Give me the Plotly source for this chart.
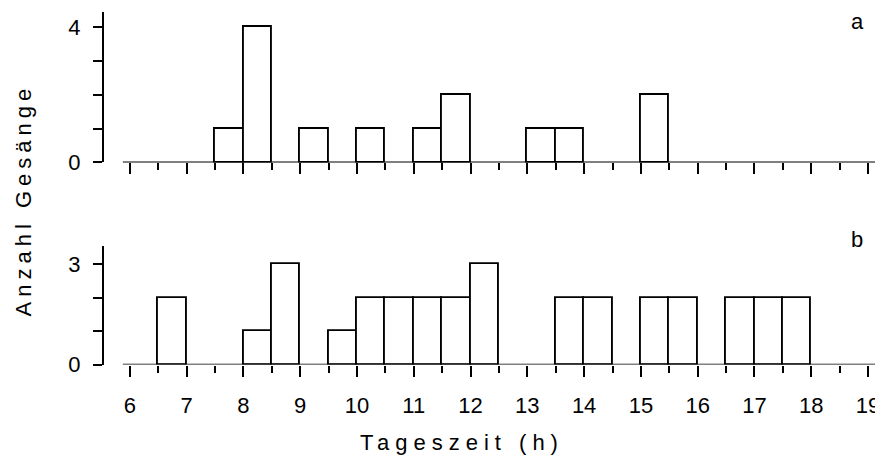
import plotly.graph_objects as go

# half-hour bins starting at 6:00
bin_starts = [6.0 + 0.5 * i for i in range(26)]  # 6.0 .. 18.5
counts_a = [0, 0, 0, 1, 4, 0, 1, 0, 1, 0, 1, 2, 0, 0, 1, 1, 0, 0, 2, 0, 0, 0, 0, 0, 0, 0]
counts_b = [0, 2, 0, 0, 1, 3, 0, 1, 2, 2, 2, 2, 3, 0, 0, 2, 2, 0, 2, 2, 0, 2, 2, 2, 0, 0]
x_ticks = list(range(6, 20))
panel_labels = ["a", "b"]
y_title = "Anzahl Gesänge"
x_title = "Tageszeit (h)"

OFF = 8  # page body margin
W, H = 883 - OFF, 475 - 2 * OFF
FONT = "Liberation Sans Narrow, Liberation Sans, Arial, sans-serif"
LW = 1.9

def px_x(p):
    return (p - OFF) / W

def px_y(p):
    return 1 - (p - OFF) / H

fig = go.Figure()

centers = [s + 0.25 for s in bin_starts]
for counts, xa, ya in [(counts_a, "x", "y"), (counts_b, "x2", "y2")]:
    xs = [c for c, v in zip(centers, counts) if v > 0]
    ys = [v for v in counts if v > 0]
    fig.add_trace(go.Bar(x=xs, y=ys, width=0.5, xaxis=xa, yaxis=ya,
                         marker=dict(color="white", line=dict(color="black", width=LW)),
                         showlegend=False, hoverinfo="skip"))

x_lo = 6 - 26 / 56.9
x_hi = 19 + 11 / 56.9
xdom = [px_x(104), px_x(880)]

common_x = dict(range=[x_lo, x_hi], showgrid=False, zeroline=False, showline=False,
                tickmode="array", tickvals=x_ticks, ticks="outside", ticklen=11,
                tickwidth=LW, tickcolor="black",
                minor=dict(tickmode="linear", tick0=6.5, dtick=1, ticks="outside",
                           ticklen=7, tickwidth=LW, tickcolor="black"),
                domain=xdom, fixedrange=True)

fig.update_layout(
    width=W, height=H,
    margin=dict(l=0, r=0, t=0, b=0),
    paper_bgcolor="white", plot_bgcolor="white",
    font=dict(family=FONT, size=22, color="black"),
    bargap=0,
    xaxis=dict(**common_x, anchor="y", showticklabels=False),
    xaxis2=dict(**common_x, anchor="y2", showticklabels=True,
                ticktext=[str(t) for t in x_ticks], ticklabelstandoff=10,
                tickfont=dict(family=FONT, size=22)),
    yaxis=dict(range=[0, 4 + 16 / 35.0], domain=[px_y(167), px_y(12)],
               showgrid=False, zeroline=False, showline=True, linecolor="black",
               linewidth=LW, ticks="outside", ticklen=9, tickwidth=LW,
               tickcolor="black", tickmode="array", tickvals=[0, 1, 2, 3, 4],
               ticktext=["0", "", "", "", "4"], ticklabelstandoff=8,
               anchor="x", fixedrange=True, tickfont=dict(family=FONT, size=22)),
    yaxis2=dict(range=[0, 3 + 19 / 34.4], domain=[px_y(375), px_y(253)],
                showgrid=False, zeroline=False, showline=True, linecolor="black",
                linewidth=LW, ticks="outside", ticklen=9, tickwidth=LW,
                tickcolor="black", tickmode="array", tickvals=[0, 1, 2, 3],
                ticktext=["0", "", "", "3"], ticklabelstandoff=8,
                anchor="x2", fixedrange=True, tickfont=dict(family=FONT, size=22)),
)

# baselines (x-axis lines not touching y-axis)
for xr, yr in [("x", "y"), ("x2", "y2")]:
    fig.add_shape(type="line", xref=xr, yref=yr, x0=6 - 7 / 56.9, x1=x_hi, y0=0, y1=0,
                  line=dict(color="black", width=LW))

# panel letters
fig.add_annotation(text=panel_labels[0], xref="paper", yref="paper", x=px_x(858), y=px_y(22),
                   showarrow=False, xanchor="center", yanchor="middle",
                   font=dict(family=FONT, size=22))
fig.add_annotation(text=panel_labels[1], xref="paper", yref="paper", x=px_x(858), y=px_y(246),
                   showarrow=False, xanchor="center", yanchor="middle",
                   font=dict(family=FONT, size=22))

# axis titles
fig.add_annotation(text='<span style="letter-spacing:6px">' + x_title + '</span>',
                   xref="paper", yref="paper", x=px_x(463), y=px_y(455),
                   showarrow=False, xanchor="center", yanchor="middle",
                   font=dict(family=FONT, size=22))
fig.add_annotation(text='<span style="letter-spacing:5px">' + y_title + '</span>',
                   xref="paper", yref="paper", x=px_x(23), y=px_y(205),
                   showarrow=False, xanchor="center", yanchor="middle", textangle=-90,
                   font=dict(family=FONT, size=22))

fig.write_html("out.html")
